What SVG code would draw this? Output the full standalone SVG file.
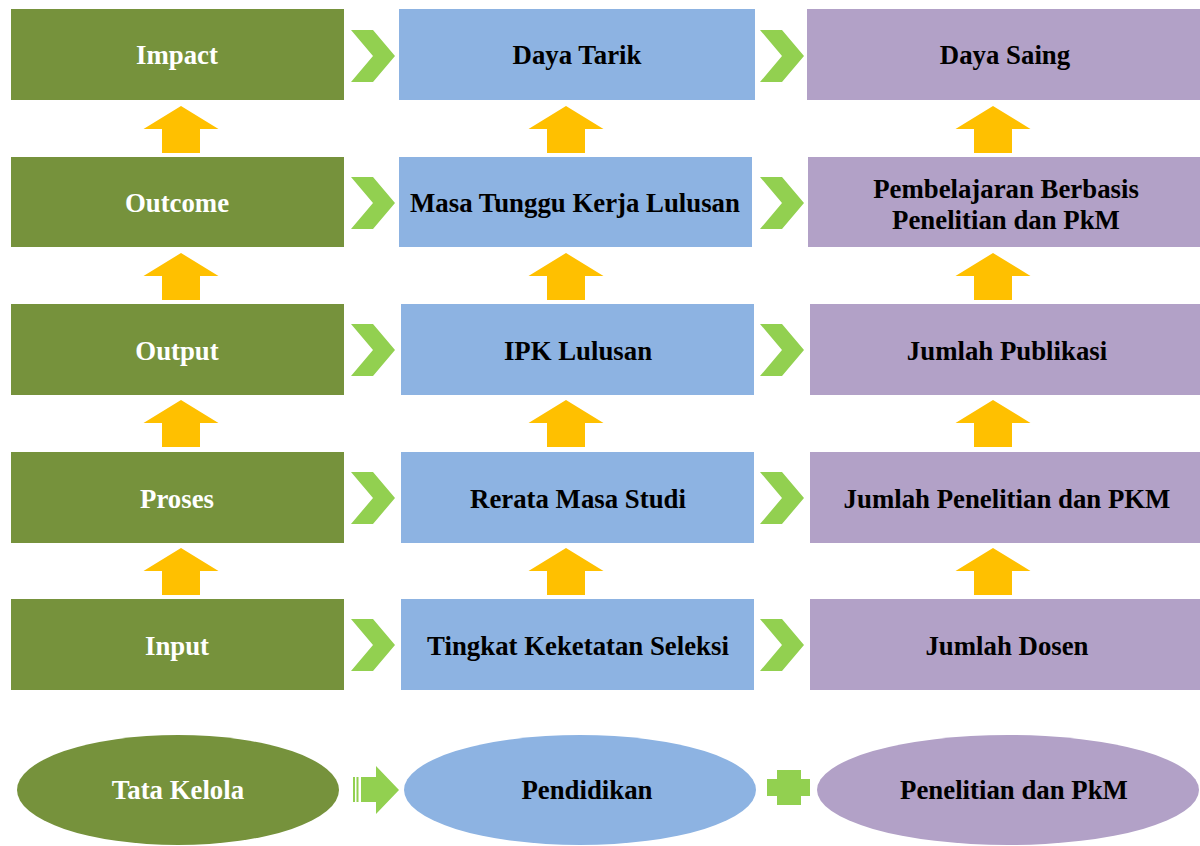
<svg xmlns="http://www.w3.org/2000/svg" width="1200" height="846" viewBox="0 0 1200 846">
<defs>
<style>
text{font-family:"Liberation Serif","Times New Roman",serif;font-weight:bold;font-size:26.8px;text-anchor:middle;dominant-baseline:central}
.g{fill:#76923C}.b{fill:#8DB3E2}.p{fill:#B2A1C7}
.wt{fill:#FFFFFF}.bt{fill:#000000}
.chev{fill:#92D050}.up{fill:#FFC000}
</style>
<path id="chevron" d="M0,0 H22 L44,26 L22,52 H0 L22,26 Z"/>
<path id="uparrow" d="M0,0 L37.5,23 H19 V47 H-19 V23 H-37.5 Z"/>
</defs>
<rect width="1200" height="846" fill="#FFFFFF"/>

<g id="n-impact"><rect class="g" x="11" y="9" width="333" height="91"/><text class="wt" x="177" y="55">Impact</text></g>
<g id="n-outcome"><rect class="g" x="11" y="157" width="333" height="90"/><text class="wt" x="177" y="203">Outcome</text></g>
<g id="n-output"><rect class="g" x="11" y="304" width="333" height="91"/><text class="wt" x="177" y="351">Output</text></g>
<g id="n-proses"><rect class="g" x="11" y="452" width="333" height="91"/><text class="wt" x="177" y="499">Proses</text></g>
<g id="n-input"><rect class="g" x="11" y="599" width="333" height="91"/><text class="wt" x="177" y="646">Input</text></g>

<g id="n-dayatarik"><rect class="b" x="399" y="9" width="356" height="91"/><text class="bt" x="577" y="55">Daya Tarik</text></g>
<g id="n-masatunggu"><rect class="b" x="399" y="157" width="353" height="90"/><text class="bt" x="575" y="203">Masa Tunggu Kerja Lulusan</text></g>
<g id="n-ipk"><rect class="b" x="401" y="304" width="353" height="91"/><text class="bt" x="578" y="351">IPK Lulusan</text></g>
<g id="n-rerata"><rect class="b" x="401" y="452" width="353" height="91"/><text class="bt" x="578" y="499">Rerata Masa Studi</text></g>
<g id="n-tingkat"><rect class="b" x="401" y="599" width="353" height="91"/><text class="bt" x="578" y="646">Tingkat Keketatan Seleksi</text></g>

<g id="n-dayasaing"><rect class="p" x="807" y="9" width="393" height="91"/><text class="bt" x="1005" y="55">Daya Saing</text></g>
<g id="n-pembelajaran"><rect class="p" x="808" y="157" width="392" height="90"/><text class="bt" x="1006" y="189">Pembelajaran Berbasis</text><text class="bt" x="1006" y="220">Penelitian dan PkM</text></g>
<g id="n-publikasi"><rect class="p" x="810" y="304" width="390" height="91"/><text class="bt" x="1007" y="351">Jumlah Publikasi</text></g>
<g id="n-penelitian"><rect class="p" x="810" y="452" width="390" height="91"/><text class="bt" x="1007" y="499">Jumlah Penelitian dan PKM</text></g>
<g id="n-dosen"><rect class="p" x="810" y="599" width="390" height="91"/><text class="bt" x="1007" y="646">Jumlah Dosen</text></g>

<g id="n-tatakelola"><ellipse class="g" cx="178" cy="790" rx="161" ry="55"/><text class="wt" x="178" y="790">Tata Kelola</text></g>
<g id="n-pendidikan"><ellipse class="b" cx="580" cy="790" rx="176" ry="55"/><text class="bt" x="587" y="790">Pendidikan</text></g>
<g id="n-penelitianpkm"><ellipse class="p" cx="1008" cy="790" rx="191" ry="55"/><text class="bt" x="1014" y="790">Penelitian dan PkM</text></g>

<g id="connectors">
<use href="#chevron" class="chev" x="351" y="30"/>
<use href="#chevron" class="chev" x="351" y="177"/>
<use href="#chevron" class="chev" x="351" y="324"/>
<use href="#chevron" class="chev" x="351" y="472"/>
<use href="#chevron" class="chev" x="351" y="619"/>
<use href="#chevron" class="chev" x="760" y="30"/>
<use href="#chevron" class="chev" x="760" y="177"/>
<use href="#chevron" class="chev" x="760" y="324"/>
<use href="#chevron" class="chev" x="760" y="472"/>
<use href="#chevron" class="chev" x="760" y="619"/>

<use href="#uparrow" class="up" x="181" y="106"/>
<use href="#uparrow" class="up" x="181" y="253"/>
<use href="#uparrow" class="up" x="181" y="400"/>
<use href="#uparrow" class="up" x="181" y="548"/>
<use href="#uparrow" class="up" x="566" y="106"/>
<use href="#uparrow" class="up" x="566" y="253"/>
<use href="#uparrow" class="up" x="566" y="400"/>
<use href="#uparrow" class="up" x="566" y="548"/>
<use href="#uparrow" class="up" x="993" y="106"/>
<use href="#uparrow" class="up" x="993" y="253"/>
<use href="#uparrow" class="up" x="993" y="400"/>
<use href="#uparrow" class="up" x="993" y="548"/>

<g class="chev">
<rect x="353" y="777" width="2" height="25"/>
<rect x="356.5" y="777" width="2" height="25"/>
<path d="M361,777 H376 V766 L399,790 L376,814 V802 H361 Z"/>
<path d="M777,770 H801 V779 H810 V796 H801 V805 H777 V796 H767 V779 H777 Z"/>
</g>
</g>
</svg>
